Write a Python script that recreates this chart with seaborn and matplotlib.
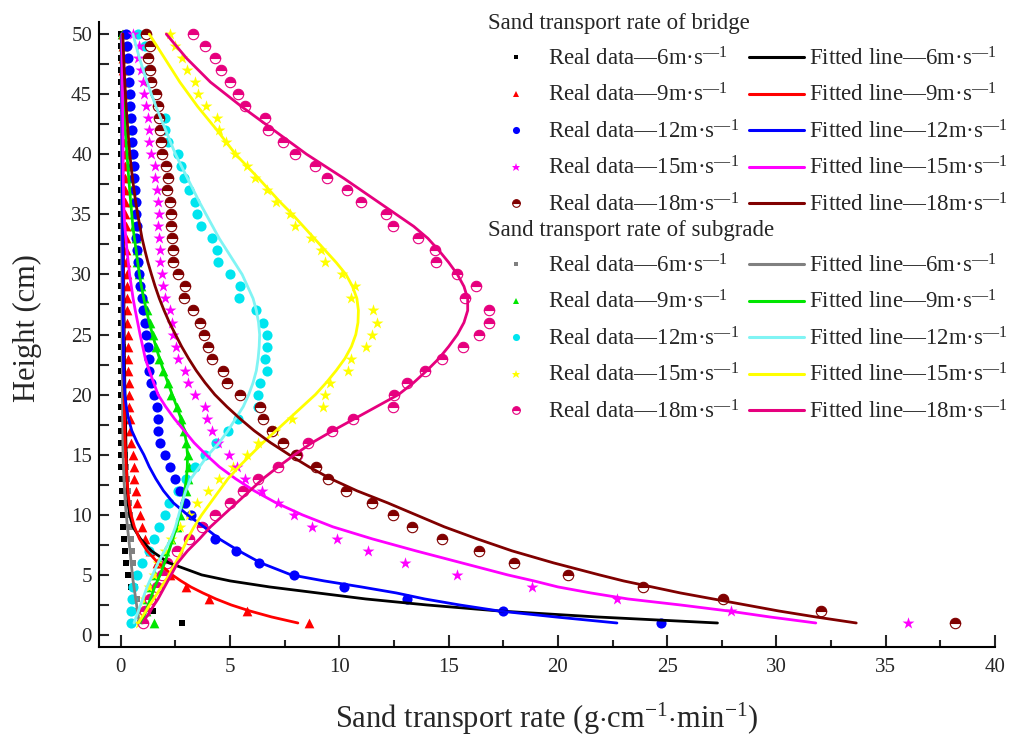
import matplotlib
matplotlib.use("Agg")
import matplotlib.pyplot as plt
from matplotlib.lines import Line2D
from matplotlib.ticker import MultipleLocator
import seaborn as sns

# measured heights (cm) and heights used for the fitted curves
height = list(range(1, 51))
fit_h = [1, 1.5, 2, 2.5, 3, 3.5, 4, 4.5, 5,
         6, 7, 8, 9, 10, 11, 12, 13, 14, 15, 16, 17, 18, 19, 20,
         21, 22, 23, 24, 25, 26, 27, 28, 29, 30, 31, 32, 33, 34, 35, 36,
         38, 40, 42, 44, 46, 48, 50]

speeds = ["6", "9", "12", "15", "18"]

# ---- bridge, measured (heights 1..50)
bridge_6 = [2.8, 1.48, 0.55, 0.47, 0.32, 0.24, 0.17, 0.14, 0.12, 0.09,
            0.07, 0.05, 0.03, 0.02, 0.02, 0.02, 0.02, 0.02, 0.02, 0.02,
            0.02, 0.02, 0.02, 0.02, 0.02, 0.02, 0.02, 0.02, 0.02, 0.02,
            0.02, 0.02, 0.02, 0.02, 0.02, 0.02, 0.02, 0.02, 0.02, 0.02,
            0.02, 0.02, 0.02, 0.02, 0.02, 0.02, 0.02, 0.02, 0.02, 0.02]
bridge_9 = [8.6, 5.75, 4.05, 3.0, 2.25, 1.65, 1.35, 1.1, 0.95, 0.87,
            0.76, 0.67, 0.62, 0.6, 0.56, 0.47, 0.42, 0.4, 0.38, 0.36,
            0.35, 0.34, 0.33, 0.32, 0.31, 0.3, 0.29, 0.28, 0.27, 0.26,
            0.25, 0.24, 0.23, 0.22, 0.21, 0.2, 0.2, 0.19, 0.18, 0.18,
            0.17, 0.16, 0.15, 0.15, 0.14, 0.13, 0.12, 0.12, 0.11, 0.1]
bridge_12 = [24.7, 17.5, 13.1, 10.2, 7.9, 6.3, 5.25, 4.3, 3.77, 3.2,
             2.92, 2.7, 2.46, 2.23, 2.0, 1.77, 1.69, 1.69, 1.66, 1.5,
             1.39, 1.31, 1.31, 1.24, 1.17, 1.1, 1.0, 0.95, 0.88, 0.85,
             0.8, 0.75, 0.7, 0.72, 0.7, 0.68, 0.65, 0.62, 0.58, 0.55,
             0.52, 0.5, 0.47, 0.44, 0.41, 0.38, 0.35, 0.32, 0.28, 0.25]
bridge_15 = [36.0, 27.9, 22.7, 18.8, 15.4, 13.0, 11.3, 9.9, 8.75, 7.9,
             7.2, 6.45, 5.7, 5.3, 4.95, 4.45, 4.15, 3.95, 3.84, 3.4,
             3.05, 2.93, 2.62, 2.52, 2.4, 2.35, 2.24, 2.0, 1.94, 1.86,
             1.8, 1.78, 1.74, 1.7, 1.74, 1.68, 1.66, 1.57, 1.54, 1.39,
             1.31, 1.28, 1.24, 1.15, 1.07, 1.0, 0.93, 0.78, 0.85, 0.55]
bridge_18 = [38.15, 32.05, 27.55, 23.9, 20.46, 18.0, 16.4, 14.7, 13.3, 12.46,
             11.5, 10.3, 9.5, 8.95, 8.0, 7.4, 6.9, 6.5, 6.36, 5.44,
             4.85, 4.66, 4.18, 3.99, 3.8, 3.6, 3.3, 2.9, 2.95, 2.6,
             2.38, 2.38, 2.35, 2.3, 2.3, 2.23, 2.12, 2.15, 2.07, 1.88,
             1.85, 1.78, 1.75, 1.7, 1.63, 1.4, 1.33, 1.25, 1.33, 1.17]

# ---- bridge, fitted (heights fit_h)
bridge_6_fit = [27.3, 21.8, 17.3, 14.0, 11.2, 9.0, 6.8, 5.0, 3.7,
                2.2, 1.4, 0.9, 0.55, 0.4, 0.33, 0.3, 0.28, 0.26, 0.25, 0.23, 0.22, 0.21, 0.2, 0.19,
                0.18, 0.17, 0.16, 0.16, 0.15, 0.15, 0.14, 0.14, 0.13, 0.13, 0.12, 0.12, 0.11, 0.11, 0.1, 0.1,
                0.09, 0.08, 0.07, 0.07, 0.06, 0.05, 0.05]
bridge_9_fit = [8.1, 6.9, 5.9, 5.05, 4.35, 3.75, 3.2, 2.75, 2.35,
                1.7, 1.2, 0.85, 0.62, 0.47, 0.38, 0.32, 0.28, 0.25, 0.22, 0.2, 0.18, 0.17, 0.16, 0.15,
                0.15, 0.14, 0.14, 0.13, 0.13, 0.12, 0.12, 0.12, 0.11, 0.11, 0.11, 0.1, 0.1, 0.1, 0.09, 0.09,
                0.08, 0.08, 0.07, 0.07, 0.06, 0.06, 0.06]
bridge_12_fit = [22.7, 19.9, 17.3, 15.5, 13.9, 12.6, 11.0, 9.3, 7.8,
                 6.4, 5.4, 4.5, 3.8, 3.05, 2.4, 1.95, 1.6, 1.3, 1.05, 0.75, 0.5, 0.35, 0.25, 0.18,
                 0.15, 0.13, 0.12, 0.12, 0.11, 0.11, 0.1, 0.1, 0.1, 0.09, 0.09, 0.09, 0.08, 0.08, 0.08, 0.07,
                 0.07, 0.06, 0.06, 0.05, 0.05, 0.04, 0.04]
bridge_15_fit = [31.8, 29.7, 27.8, 25.6, 23.2, 21.5, 20.0, 18.9, 17.7,
                 15.6, 13.5, 11.5, 9.7, 8.3, 7.1, 6.1, 5.25, 4.5, 3.9, 3.35, 2.9, 2.45, 2.05, 1.7,
                 1.5, 1.3, 1.12, 1.0, 0.88, 0.77, 0.66, 0.56, 0.48, 0.4, 0.34, 0.28, 0.23, 0.18, 0.15, 0.13,
                 0.11, 0.1, 0.09, 0.08, 0.07, 0.06, 0.05]
bridge_18_fit = [33.65, 31.8, 30.1, 28.6, 27.1, 25.6, 24.3, 23.0, 21.9,
                 19.8, 17.9, 16.3, 14.8, 13.5, 12.2, 10.8, 9.6, 8.6, 7.7, 6.85, 6.1, 5.45, 4.85, 4.3,
                 3.85, 3.45, 3.1, 2.78, 2.5, 2.22, 1.98, 1.76, 1.57, 1.4, 1.24, 1.1, 0.97, 0.87, 0.77, 0.68,
                 0.53, 0.41, 0.32, 0.24, 0.18, 0.13, 0.09]

# ---- subgrade, measured (heights 1..50)
subgrade_6 = [0.87, 0.79, 0.72, 0.65, 0.58, 0.55, 0.5, 0.48, 0.42, 0.4,
              0.36, 0.32, 0.27, 0.22, 0.18, 0.15, 0.12, 0.1, 0.1, 0.09,
              0.09, 0.08, 0.08, 0.08, 0.07, 0.07, 0.07, 0.06, 0.06, 0.06,
              0.06, 0.05, 0.05, 0.05, 0.05, 0.04, 0.04, 0.04, 0.04, 0.04,
              0.03, 0.03, 0.03, 0.03, 0.03, 0.02, 0.02, 0.02, 0.02, 0.02]
subgrade_9 = [1.5, 1.17, 1.2, 1.35, 1.55, 1.8, 2.0, 2.3, 2.55, 2.7,
              2.85, 3.0, 3.05, 3.1, 3.05, 3.0, 2.9, 2.75, 2.55, 2.3,
              2.15, 1.95, 1.75, 1.6, 1.45, 1.32, 1.18, 1.05, 0.92, 0.82,
              0.76, 0.72, 0.67, 0.62, 0.58, 0.52, 0.48, 0.45, 0.42, 0.38,
              0.35, 0.32, 0.28, 0.25, 0.22, 0.18, 0.15, 0.12, 0.08, 0.05]
subgrade_12 = [0.45, 0.45, 0.5, 0.55, 0.75, 0.95, 1.3, 1.5, 1.75, 2.0,
               2.2, 2.6, 3.0, 3.38, 3.84, 4.35, 4.9, 5.37, 6.28, 6.28,
               6.36, 6.7, 6.6, 6.67, 6.67, 6.5, 6.2, 5.42, 5.44, 5.0,
               4.45, 4.38, 4.15, 3.68, 3.5, 3.37, 3.14, 2.91, 2.76, 2.6,
               2.15, 2.0, 2.0, 1.69, 1.54, 1.39, 1.24, 1.24, 1.1, 0.78]
subgrade_15 = [0.85, 0.95, 1.1, 1.3, 1.5, 1.7, 2.0, 2.3, 2.7, 3.1,
               3.5, 4.0, 4.5, 5.14, 5.75, 6.28, 7.04, 7.81, 9.25, 9.33,
               9.56, 10.4, 10.55, 11.24, 11.47, 11.7, 11.54, 10.55, 10.7, 10.1,
               9.33, 9.18, 8.72, 7.96, 7.73, 7.1, 6.67, 6.13, 5.75, 5.2,
               4.83, 4.5, 4.4, 3.9, 3.53, 3.38, 3.03, 2.8, 2.5, 2.23]
subgrade_18 = [1.0, 1.1, 1.35, 1.65, 1.9, 2.1, 2.55, 3.1, 3.7, 4.3,
               5.0, 5.6, 6.28, 7.2, 8.04, 8.55, 9.64, 10.63, 12.46, 12.5,
               13.1, 13.9, 14.7, 15.66, 16.4, 16.85, 16.85, 15.74, 16.27, 15.36,
               14.4, 14.36, 13.6, 12.46, 12.15, 11.0, 10.35, 9.41, 8.87, 7.96,
               7.43, 6.74, 6.59, 5.67, 5.37, 4.99, 4.6, 4.3, 3.84, 3.31]

# ---- subgrade, fitted (heights fit_h)
subgrade_6_fit = [0.85, 0.8, 0.76, 0.72, 0.68, 0.64, 0.6, 0.56, 0.53,
                  0.47, 0.42, 0.36, 0.3, 0.25, 0.2, 0.17, 0.14, 0.12, 0.1, 0.09, 0.09, 0.08, 0.08, 0.07,
                  0.07, 0.07, 0.06, 0.06, 0.06, 0.05, 0.05, 0.05, 0.05, 0.05, 0.04, 0.04, 0.04, 0.04, 0.04, 0.04,
                  0.03, 0.03, 0.03, 0.03, 0.02, 0.02, 0.02]
subgrade_9_fit = [0.95, 1.05, 1.15, 1.25, 1.35, 1.45, 1.55, 1.67, 1.8,
                  2.0, 2.2, 2.38, 2.55, 2.7, 2.82, 2.92, 3.0, 3.04, 3.05, 3.0, 2.9, 2.75, 2.56, 2.35,
                  2.15, 1.95, 1.77, 1.6, 1.45, 1.3, 1.17, 1.05, 0.94, 0.85, 0.77, 0.7, 0.62, 0.55, 0.5, 0.45,
                  0.36, 0.28, 0.2, 0.14, 0.09, 0.05, 0.02]
subgrade_12_fit = [0.6, 0.7, 0.8, 0.9, 1.0, 1.1, 1.2, 1.32, 1.45,
                   1.7, 2.0, 2.3, 2.5, 2.65, 2.8, 2.97, 3.2, 3.6, 4.0, 4.5, 4.9, 5.25, 5.6, 5.85,
                   6.05, 6.2, 6.28, 6.33, 6.35, 6.3, 6.2, 6.05, 5.8, 5.55, 5.2, 4.85, 4.5, 4.2, 3.9, 3.6,
                   3.05, 2.5, 2.05, 1.6, 1.2, 0.85, 0.55]
subgrade_15_fit = [0.8, 0.97, 1.15, 1.32, 1.5, 1.68, 1.85, 2.03, 2.2,
                   2.5, 2.8, 3.05, 3.35, 3.7, 4.1, 4.5, 4.9, 5.4, 5.95, 6.5, 7.1, 7.7, 8.3, 8.9,
                   9.4, 9.85, 10.25, 10.55, 10.75, 10.85, 10.87, 10.8, 10.6, 10.3, 9.85, 9.35, 8.85, 8.35, 7.85, 7.3,
                   6.3, 5.25, 4.4, 3.5, 2.7, 2.0, 1.3]
subgrade_18_fit = [1.0, 1.17, 1.35, 1.52, 1.7, 1.85, 2.0, 2.15, 2.3,
                   2.6, 3.05, 3.6, 4.1, 4.7, 5.3, 5.9, 6.5, 7.2, 7.95, 8.75, 9.7, 10.7, 11.7, 12.7,
                   13.4, 14.0, 14.55, 15.0, 15.4, 15.7, 15.87, 15.87, 15.7, 15.4, 15.0, 14.55, 14.05, 13.4, 12.6, 11.8,
                   10.2, 8.5, 7.0, 5.5, 4.1, 3.0, 2.08]

bridge_pts = [bridge_6, bridge_9, bridge_12, bridge_15, bridge_18]
bridge_fit = [bridge_6_fit, bridge_9_fit, bridge_12_fit, bridge_15_fit, bridge_18_fit]
subgrade_pts = [subgrade_6, subgrade_9, subgrade_12, subgrade_15, subgrade_18]
subgrade_fit = [subgrade_6_fit, subgrade_9_fit, subgrade_12_fit, subgrade_15_fit, subgrade_18_fit]

bridge_colors = ["#000000", "#ff0000", "#0000ff", "#ff00ff", "#800000"]
subgrade_colors = ["#808080", "#00e600", "#00e5ef", "#ffff00", "#e6007e"]
subgrade_line_colors = ["#808080", "#00e600", "#80f4f4", "#ffff00", "#e6007e"]
markers = ["s", "^", "o", "*", "o"]
msizes = [5, 7, 7.3, 9, 7.5]

sns.set_style("ticks")
plt.rcParams["font.family"] = ["Liberation Serif", "DejaVu Serif"]
plt.rcParams["mathtext.fontset"] = "custom"
plt.rcParams["mathtext.rm"] = "Liberation Serif"
plt.rcParams["mathtext.it"] = "Liberation Serif:italic"

fig = plt.figure(figsize=(10.26, 7.35), dpi=100)
ax = fig.add_axes([0.0965, 0.1197, 0.8733, 0.8503])


def draw_points(vals, color, marker, size, half):
    if half:
        # half filled circle: coloured top, white bottom
        ax.plot(vals, height, ls="none", marker="o", ms=size, fillstyle="top",
                mfc=color, mfcalt="white", mec=color, mew=0.8, zorder=2)
    else:
        sns.scatterplot(x=vals, y=height, marker=marker, color=color, s=size ** 2,
                        linewidth=0, ax=ax, zorder=2, legend=False)


for i in range(5):
    sns.lineplot(x=bridge_fit[i], y=fit_h, orient="y", sort=False, estimator=None,
                 color=bridge_colors[i], lw=2.0, ax=ax, zorder=3)
    sns.lineplot(x=subgrade_fit[i], y=fit_h, orient="y", sort=False, estimator=None,
                 color=subgrade_line_colors[i], lw=2.0, ax=ax, zorder=3)
for i in range(5):
    draw_points(subgrade_pts[i], subgrade_colors[i], markers[i], msizes[i], i == 4)
    draw_points(bridge_pts[i], bridge_colors[i], markers[i], msizes[i], i == 4)

ax.set_xlim(-1, 40)
ax.set_ylim(-1, 51)
ax.xaxis.set_major_locator(MultipleLocator(5))
ax.xaxis.set_minor_locator(MultipleLocator(2.5))
ax.yaxis.set_major_locator(MultipleLocator(5))
ax.yaxis.set_minor_locator(MultipleLocator(2.5))
ax.tick_params(axis="x", which="major", direction="in", length=9, width=1.5, labelsize=15, pad=8)
ax.tick_params(axis="x", which="minor", direction="in", length=5, width=1.5)
ax.tick_params(axis="y", which="both", direction="in", length=7, width=1.5, labelsize=15, pad=5)
for s in ["top", "right"]:
    ax.spines[s].set_visible(False)
for s in ["left", "bottom"]:
    ax.spines[s].set_linewidth(1.5)
    ax.spines[s].set_color("black")

ax.set_xlabel("Sand transport rate (g$\\cdot$cm$^{-1}$$\\cdot$min$^{-1}$)", fontsize=22, labelpad=17)
ax.set_ylabel("Height (cm)", fontsize=22, labelpad=20)
ax.yaxis.set_label_coords(-0.064, 0.51)


def label(kind, sp):
    return kind + "\u2014" + sp + "m\u00b7s$^{\\mathrm{\u20141}}$"


def make_handles(colors, line_colors):
    pts, lines = [], []
    for i in range(5):
        if i == 4:
            h = Line2D([], [], ls="none", marker="o", ms=5.5, fillstyle="top", mfc=colors[i],
                       mfcalt="white", mec=colors[i], mew=0.8)
        else:
            h = Line2D([], [], ls="none", marker=markers[i], ms=msizes[i] * 0.7, color=colors[i], mew=0)
        pts.append(h)
        lines.append(Line2D([], [], color=line_colors[i], lw=2.2))
    return pts + lines


labels = [label("Real data", s) for s in speeds] + [label("Fitted line", s) for s in speeds]
common = dict(ncol=2, frameon=False, fontsize=16.5, title_fontsize=16.5, alignment="left",
              loc="upper left", bbox_transform=fig.transFigure, borderpad=0, borderaxespad=0,
              handlelength=2.4, handletextpad=0.22, columnspacing=0.42, labelspacing=0.58)
leg1 = fig.legend(make_handles(bridge_colors, bridge_colors), labels,
                  title="Sand transport rate of bridge", bbox_to_anchor=(488 / 1026, 1 - 13 / 735), **common)
leg2 = fig.legend(make_handles(subgrade_colors, subgrade_line_colors), labels,
                  title="Sand transport rate of subgrade", bbox_to_anchor=(488 / 1026, 1 - 220 / 735), **common)

fig.savefig("out.png", dpi=100)
